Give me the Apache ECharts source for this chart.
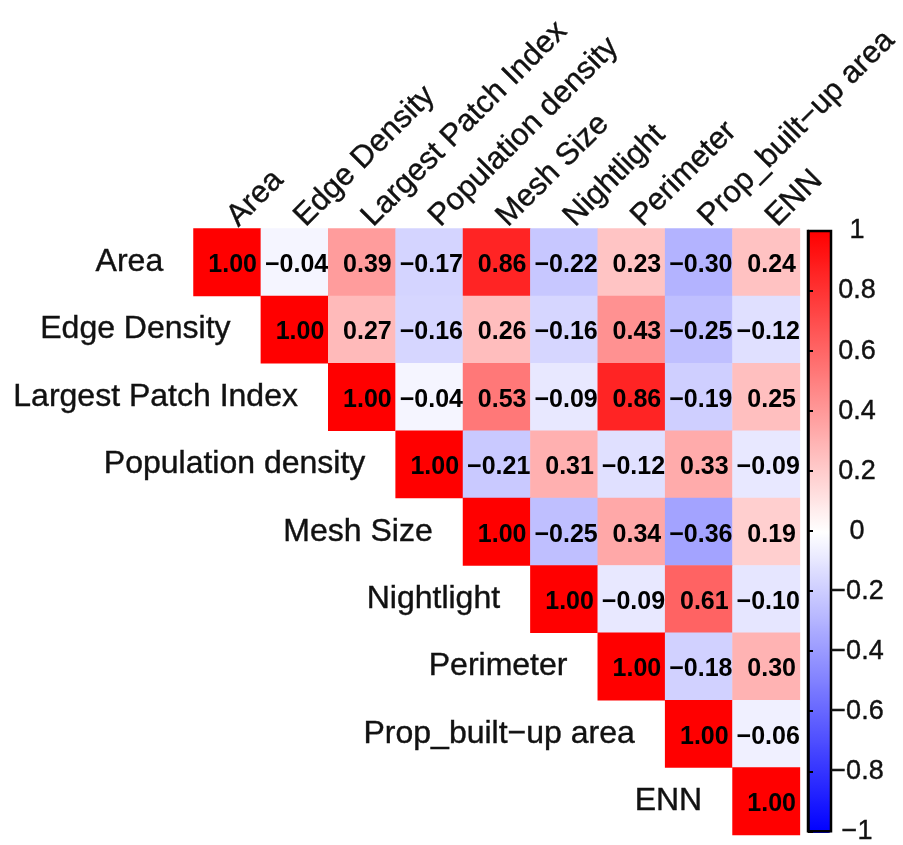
<!DOCTYPE html>
<html>
<head>
<meta charset="utf-8">
<script src="https://cdn.jsdelivr.net/npm/echarts@6/dist/echarts.min.js"></script>
<style>html,body{margin:0;padding:0;background:#fff}#c{width:903px;height:845px}</style>
</head>
<body>
<div id="c"></div>
<script>
var variables = ['Area', 'Edge Density', 'Largest Patch Index', 'Population density', 'Mesh Size', 'Nightlight', 'Perimeter', 'Prop_built\u2212up area', 'ENN'];
// upper-triangle correlations, row i lists columns i..8
var rowArea = [1.00, -0.04, 0.39, -0.17, 0.86, -0.22, 0.23, -0.30, 0.24];
var rowEdgeDensity = [1.00, 0.27, -0.16, 0.26, -0.16, 0.43, -0.25, -0.12];
var rowLargestPatch = [1.00, -0.04, 0.53, -0.09, 0.86, -0.19, 0.25];
var rowPopDensity = [1.00, -0.21, 0.31, -0.12, 0.33, -0.09];
var rowMeshSize = [1.00, -0.25, 0.34, -0.36, 0.19];
var rowNightlight = [1.00, -0.09, 0.61, -0.10];
var rowPerimeter = [1.00, -0.18, 0.30];
var rowPropBuilt = [1.00, -0.06];
var rowENN = [1.00];
var rows = [rowArea, rowEdgeDensity, rowLargestPatch, rowPopDensity, rowMeshSize, rowNightlight, rowPerimeter, rowPropBuilt, rowENN];
var colorbarMin = -1, colorbarMax = 1, colorbarStep = 0.2;

var cells = [];
rows.forEach(function (r, i) {
  r.forEach(function (v, k) { cells.push([i + k, i, v]); });
});
var diag = variables.map(function (n, i) { return [i, i, n]; });

function fmtCell(v) {
  var s = Math.abs(v).toFixed(2);
  return v < 0 ? '\u2212' + s : ' ' + s;
}
function fmtTick(v) {
  var r = Number(v.toFixed(1));
  if (r === 0) return '0';
  return (r < 0 ? '\u2212' : '') + String(Math.abs(r));
}

var FONT = "'Liberation Sans', Arial, Helvetica, sans-serif";
var chart = echarts.init(document.getElementById('c'), null, {renderer: 'canvas'});
chart.setOption({
  animation: false,
  backgroundColor: '#fff',
  textStyle: {fontFamily: FONT},
  grid: [
    {left: 193.5, top: 228.5, width: 606.5, height: 606.5},
    {left: 808, top: 231, width: 23, height: 602, show: true, borderColor: '#000', borderWidth: 2.5, backgroundColor: 'transparent', z: 10}
  ],
  xAxis: [
    {type: 'category', gridIndex: 0, data: variables, position: 'top',
     axisLine: {show: false}, axisTick: {show: false}, splitLine: {show: false},
     axisLabel: {rotate: -45, interval: 0, margin: 2, padding: [0, 0, 0, 7], fontSize: 31, color: '#111', fontFamily: FONT,
                 textBorderColor: '#111', textBorderWidth: 0.4}},
    {type: 'value', gridIndex: 1, show: false}
  ],
  yAxis: [
    {type: 'category', gridIndex: 0, data: variables, inverse: true, show: false},
    {type: 'value', gridIndex: 1, position: 'right', min: colorbarMin, max: colorbarMax, interval: colorbarStep, z: 10,
     axisLine: {show: true, lineStyle: {color: '#000', width: 2.5}},
     axisTick: {show: true, length: 5, lineStyle: {color: '#000', width: 2}},
     splitLine: {show: false},
     axisLabel: {show: true, formatter: fmtTick, align: 'center', margin: 26, fontSize: 27, color: '#111', fontFamily: FONT,
                 textBorderColor: '#111', textBorderWidth: 0.4}}
  ],
  visualMap: {
    type: 'continuous', min: colorbarMin, max: colorbarMax, seriesIndex: 0, calculable: false,
    left: 808, top: 231, itemWidth: 23, itemHeight: 602, padding: 0, text: null, showLabel: false, z: 2,
    inRange: {color: ['#0000FF', '#FFFFFF', '#FF0000']}
  },
  series: [
    {type: 'heatmap', xAxisIndex: 0, yAxisIndex: 0, data: cells, progressive: 0,
     label: {show: true, offset: [2, 3], formatter: function (p) { return fmtCell(p.value[2]); }, fontSize: 25, fontWeight: 'bold', color: '#000', fontFamily: FONT},
     emphasis: {disabled: true}},
    {type: 'scatter', xAxisIndex: 0, yAxisIndex: 0, data: diag, symbolSize: 0, silent: true,
     itemStyle: {color: 'transparent', opacity: 1},
     label: {show: true, position: 'left', distance: 64, formatter: function (p) { return p.value[2]; }, fontSize: 32, color: '#111', fontFamily: FONT,
             textBorderColor: '#111', textBorderWidth: 0.4}}
  ]
});
</script>
</body>
</html>
